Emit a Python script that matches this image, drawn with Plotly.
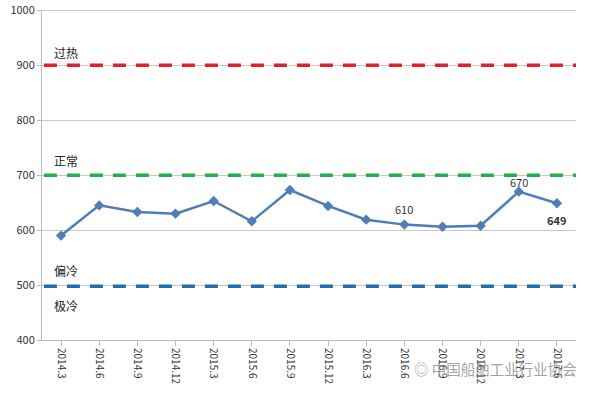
import plotly.graph_objects as go

categories = ["2014.3", "2014.6", "2014.9", "2014.12", "2015.3", "2015.6", "2015.9",
              "2015.12", "2016.3", "2016.6", "2016.9", "2016.12", "2017.3", "2017.6"]
index_values = [590, 645, 633, 630, 653, 616, 673, 644, 619, 610, 606, 608, 670, 649]
ref_levels = [900, 700, 498]
ref_colors = ["#e0202a", "#22b04f", "#1f6fae"]
zone_labels = ["过热", "正常", "偏冷", "极冷"]
zone_label_y = [924, 727, 527, 463]
y_ticks = [400, 500, 600, 700, 800, 900, 1000]

FONT = "Noto Sans CJK SC, Noto Sans, sans-serif"

fig = go.Figure()
x_idx = list(range(len(categories)))

for lvl, col in zip(ref_levels, ref_colors):
    fig.add_trace(go.Scatter(
        x=[-0.45, len(categories) - 0.5], y=[lvl, lvl], mode="lines",
        line=dict(color=col, width=3.5, dash="13px,10px"),
        hoverinfo="skip", showlegend=False))

fig.add_trace(go.Scatter(
    x=x_idx, y=index_values, mode="lines+markers",
    line=dict(color="#4f7db8", width=2.5),
    marker=dict(symbol="diamond", size=8, color="#4f7db8"),
    showlegend=False))

annotations = []
for txt, yv in zip(zone_labels, zone_label_y):
    annotations.append(dict(x=-0.24, y=yv, xref="x", yref="y", text=txt, showarrow=False,
                            xanchor="left", font=dict(size=12, color="#222", family=FONT)))

annotations.append(dict(x=9, y=index_values[9], xref="x", yref="y", text="610",
                        showarrow=False, yshift=16, font=dict(size=11, color="#333", family=FONT)))
annotations.append(dict(x=12, y=index_values[12], xref="x", yref="y", text="670",
                        showarrow=False, yshift=10, font=dict(size=11, color="#333", family=FONT)))
annotations.append(dict(x=13, y=index_values[13], xref="x", yref="y", text="<b>649</b>",
                        showarrow=False, yshift=-17, font=dict(size=11, color="#333", family=FONT)))
annotations.append(dict(x=1.005, y=-0.085, xref="paper", yref="paper", text="◎ 中国船舶工业行业协会",
                        showarrow=False, xanchor="right", yanchor="middle",
                        font=dict(size=14.5, color="rgba(120,120,120,0.7)", family=FONT)))

fig.update_layout(
    width=600, height=395,
    margin=dict(l=42, r=24, t=10, b=55),
    paper_bgcolor="white", plot_bgcolor="white",
    font=dict(family=FONT, size=11, color="#333"),
    annotations=annotations,
    shapes=[dict(type="line", xref="paper", yref="y", x0=0, x1=1, y0=y_ticks[-1], y1=y_ticks[-1],
                 line=dict(color="#c8c8c8", width=1), layer="below")],
    xaxis=dict(
        tickmode="array", tickvals=x_idx, ticktext=categories,
        range=[-0.5, len(categories) - 0.5], tickangle=90, automargin=False,
        showgrid=False, showline=True, linecolor="#bbbbbb", linewidth=1,
        ticks="outside", ticklen=5, tickcolor="#bbbbbb", tickson="boundaries",
        tickfont=dict(size=10, color="#333"), zeroline=False),
    yaxis=dict(
        range=[400, 1000.6], tickvals=y_ticks, showgrid=True, gridcolor="#c8c8c8",
        showline=True, linecolor="#bbbbbb", ticks="outside", ticklen=4, tickcolor="#bbbbbb",
        automargin=False,
        tickfont=dict(size=11, color="#333"), zeroline=False),
)

fig.write_html("out.html", config={"displayModeBar": False},
               post_script="document.body.style.margin='0';document.body.style.overflow='hidden';")
